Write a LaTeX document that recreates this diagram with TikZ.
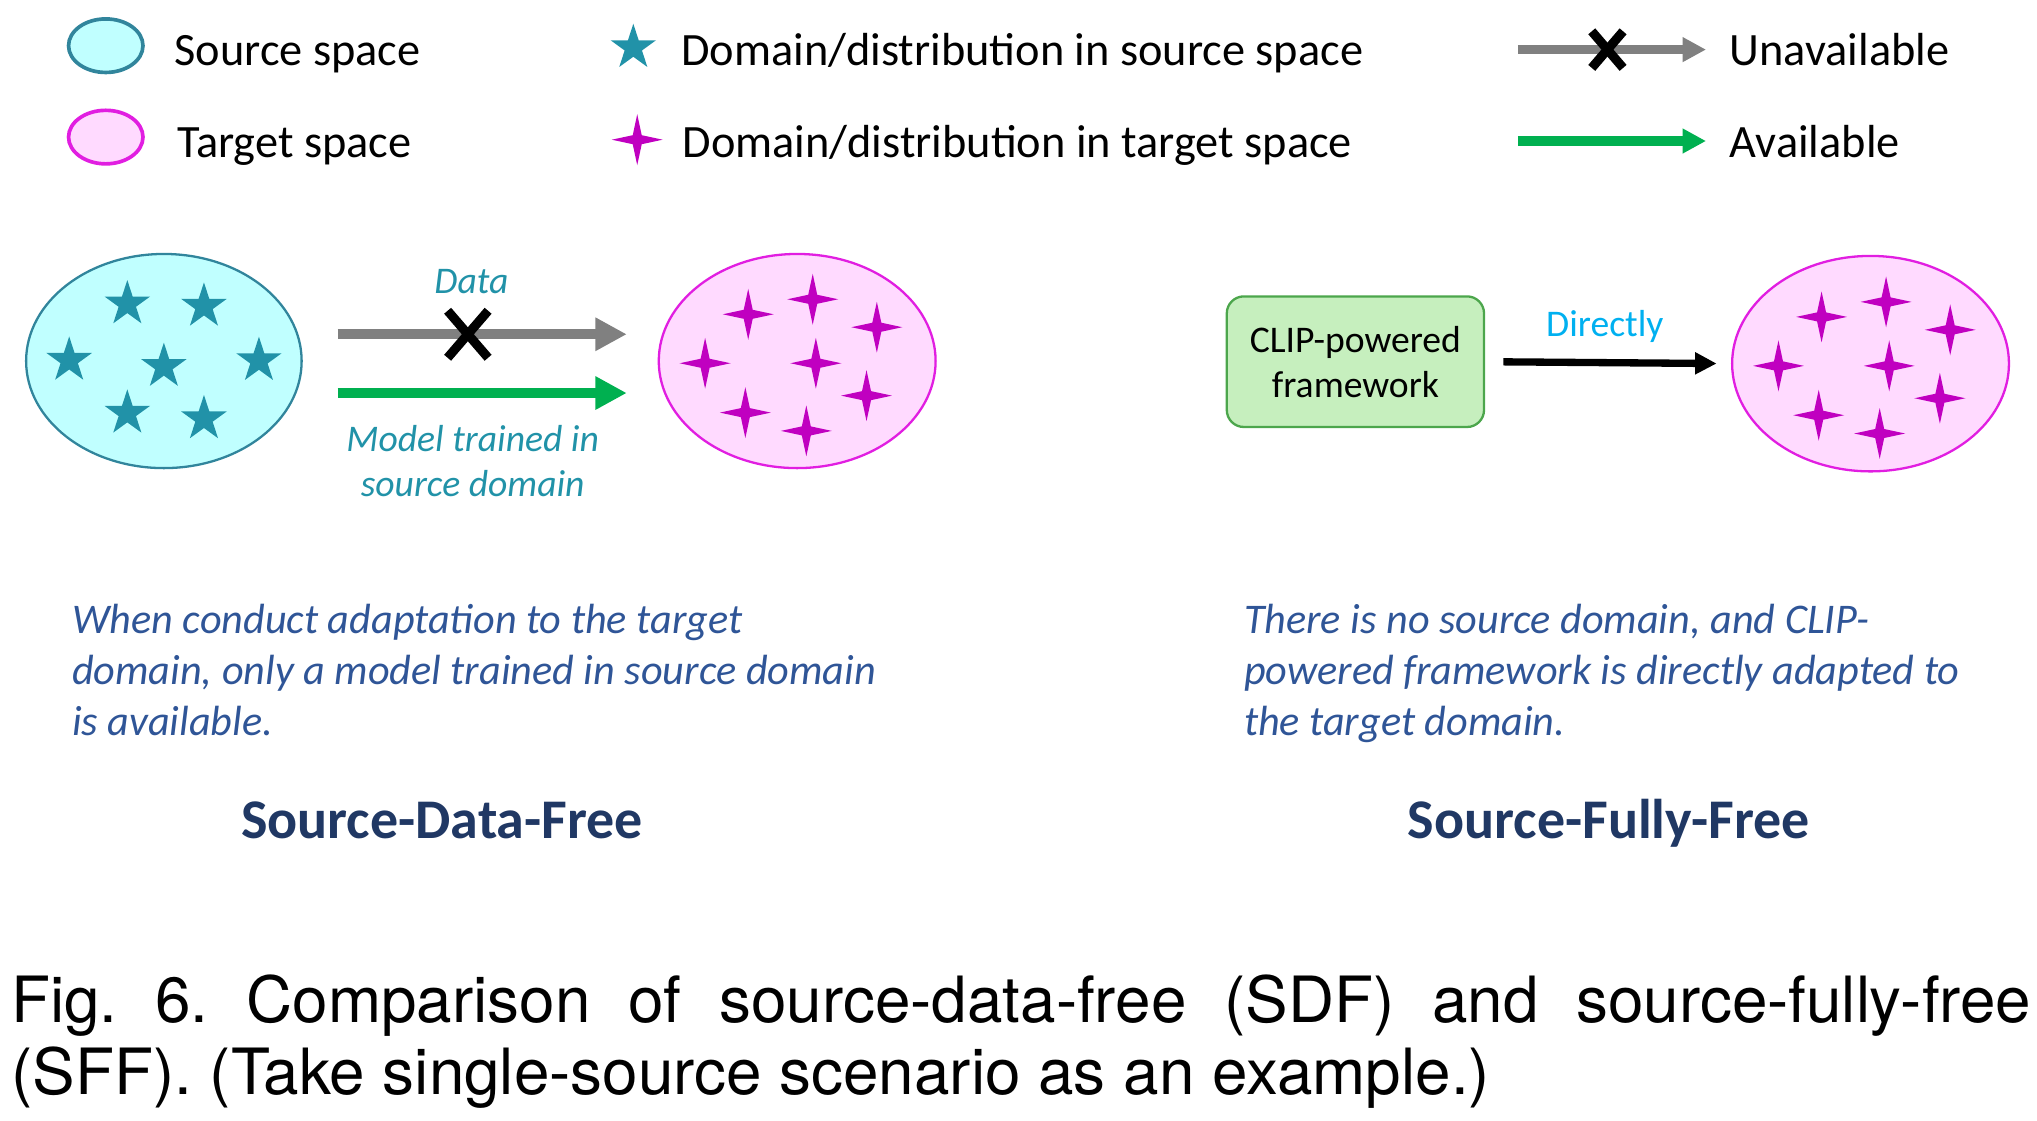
\documentclass[tikz,border=0pt]{standalone}
\usepackage{fontspec}
\setmainfont{Carlito}
\newfontfamily\captionsans{TeX Gyre Heros}
\usetikzlibrary{arrows.meta,shapes.geometric}
\definecolor{srcFill}{RGB}{192,255,255}
\definecolor{srcLine}{RGB}{49,133,156}
\definecolor{starTeal}{RGB}{33,146,168}
\definecolor{tgtFill}{RGB}{255,218,255}
\definecolor{tgtLine}{RGB}{225,30,225}
\definecolor{starMag}{RGB}{192,0,192}
\definecolor{arrGray}{RGB}{128,128,128}
\definecolor{arrGreen}{RGB}{0,176,80}
\definecolor{boxFill}{RGB}{198,239,190}
\definecolor{boxLine}{RGB}{76,166,76}
\definecolor{noteBlue}{RGB}{47,85,151}
\definecolor{titleBlue}{RGB}{32,56,100}
\definecolor{directBlue}{RGB}{0,176,240}
\newcommand\spaceWidth{2.11cm}
\newcommand\spaceHeight{1.64cm}
\newcommand\drawSourceStars[1]{
	\foreach \dx/\dy [count=\i] in {-0.28/0.437, 0.307/0.419, -0.725/0.005, 0/-0.042, 0.728/0.003, -0.28/-0.40, 0.307/-0.443}{
		\node[srcstar] (#1star\i) at ([shift={(\dx,\dy)}]#1.center) {};
	}
}
\newcommand\drawTargetSparks[1]{
	\foreach \dx/\dy [count=\i] in {-0.375/0.358, 0.119/0.473, 0.61/0.259, -0.705/-0.017, 0.143/-0.017, 0.531/-0.265, -0.397/-0.395, 0.07/-0.535}{
		\node[spark] (#1spark\i) at ([shift={(\dx,\dy)}]#1.center) {};
	}
}
\newcommand\drawCross[3]{
	\draw[cross] ([shift={(-#2,#3)}]#1) to ([shift={(#2,-#3)}]#1);
	\draw[cross] ([shift={(#2,#3)}]#1) to ([shift={(-#2,-#3)}]#1);
}

\begin{document}
\frenchspacing
\begin{tikzpicture}[
	srcstar/.style={star, star points=5, star point ratio=2.618, minimum size=0.366cm, inner sep=0pt, fill=starTeal},
	spark/.style={star, star points=4, star point ratio=4, minimum size=0.39cm, inner sep=0pt, fill=starMag},
	srcspace/.style={ellipse, draw=srcLine, fill=srcFill, line width=0.5pt, inner sep=0pt},
	tgtspace/.style={ellipse, draw=tgtLine, fill=tgtFill, line width=0.5pt, inner sep=0pt},
	legtext/.style={anchor=base west, inner sep=0pt, font=\fontsize{10.1}{12}\selectfont},
	unavail/.style={draw=arrGray, line width=0.08cm, -{Triangle[length=0.24cm,width=0.24cm]}},
	avail/.style={draw=arrGreen, line width=0.08cm, -{Triangle[length=0.24cm,width=0.24cm]}},
	cross/.style={draw=black, line width=0.07cm},
	arrlabel/.style={inner sep=0pt, text=starTeal, font=\fontsize{8.2}{9.8}\selectfont\itshape},
	clipbox/.style={draw=boxLine, fill=boxFill, line width=0.5pt, rounded corners=0.13cm, minimum width=1.97cm, minimum height=1.0cm, align=center, font=\fontsize{8.2}{9.8}\selectfont},
	note/.style={anchor=base west, inner sep=0pt, align=left, text=noteBlue, font=\fontsize{9.2}{11.1}\selectfont\itshape},
	title/.style={anchor=base, inner sep=0pt, text=titleBlue, font=\fontsize{12.2}{14}\selectfont\bfseries},
	captext/.style={anchor=base west, inner sep=0pt, font=\captionsans\fontsize{13.9}{15.6}\selectfont}
]
	\useasboundingbox (0,0) rectangle (15.6,-8.585);

	% legend
	\node[srcspace, line width=0.8pt, minimum width=0.57cm, minimum height=0.41cm] (legSrc) at (0.81,-0.35) {};
	\node[tgtspace, line width=0.8pt, minimum width=0.57cm, minimum height=0.41cm] (legTgt) at (0.81,-1.05) {};
	\node[legtext] (legSrcText) at (1.33,-0.50) {Source space};
	\node[legtext] (legTgtText) at (1.35,-1.21) {Target space};
	\node[srcstar] (legStar) at (4.85,-0.365) {};
	\node[spark] (legSpark) at (4.88,-1.07) {};
	\node[legtext] (legStarText) at (5.21,-0.50) {Domain/distribution in source space};
	\node[legtext] (legSparkText) at (5.22,-1.21) {Domain/distribution in target space};
	\coordinate (legGrayFrom) at (11.625,-0.38);
	\coordinate (legGrayTo) at (13.065,-0.38);
	\coordinate (legGreenFrom) at (11.625,-1.08);
	\coordinate (legGreenTo) at (13.065,-1.08);
	\draw[unavail, line width=0.07cm, -{Triangle[length=0.18cm,width=0.18cm]}] (legGrayFrom) to (legGrayTo);
	\draw[avail, line width=0.07cm, -{Triangle[length=0.18cm,width=0.18cm]}] (legGreenFrom) to (legGreenTo);
	\coordinate (legCross) at (12.31,-0.38);
	\drawCross{legCross}{0.12}{0.14}
	\node[legtext] (legUnavail) at (13.24,-0.50) {Unavailable};
	\node[legtext] (legAvail) at (13.24,-1.21) {Available};

	% source-data-free
	\node[srcspace, minimum width=\spaceWidth, minimum height=\spaceHeight] (src) at (1.255,-2.765) {};
	\drawSourceStars{src}
	\node[tgtspace, minimum width=2.12cm, minimum height=\spaceHeight] (tgtL) at (6.105,-2.765) {};
	\drawTargetSparks{tgtL}
	\coordinate (dataFrom) at (2.585,-2.56);
	\coordinate (dataTo) at (4.80,-2.56);
	\coordinate (modelFrom) at (2.585,-3.01);
	\coordinate (modelTo) at (4.80,-3.01);
	\draw[unavail] (dataFrom) to (dataTo);
	\draw[avail] (modelFrom) to (modelTo);
	\coordinate (dataCross) at (3.583,-2.56);
	\drawCross{dataCross}{0.155}{0.18}
	\node[arrlabel, anchor=base] (dataLbl) at (3.61,-2.247) {Data};
	\node[arrlabel, anchor=base, align=center] (modelLbl) at (3.62,-3.80) {Model trained in\\source domain};
	\node[note] (noteSDF) at (0.545,-5.63) {When conduct adaptation to the target\\domain, only a model trained in source domain\\is available.};
	\node[title] (titleSDF) at (3.386,-6.42) {Source-Data-Free};

	% source-fully-free
	\node[clipbox] (clip) at (10.38,-2.77) {CLIP-powered\\framework};
	\node[tgtspace, minimum width=2.12cm, minimum height=1.65cm] (tgtR) at (14.325,-2.785) {};
	\drawTargetSparks{tgtR}
	\draw[line width=0.056cm, -{Triangle[length=0.165cm,width=0.16cm]}, shorten <=0.14cm, shorten >=0.11cm] (clip.east) to (tgtR.west);
	\node[arrlabel, anchor=base, text=directBlue, font=\fontsize{8.2}{9.8}\selectfont] (directLbl) at (12.29,-2.58) {Directly};
	\node[note] (noteSFF) at (9.52,-5.63) {There is no source domain, and CLIP-\\powered framework is directly adapted to\\the target domain.};
	\node[title] (titleSFF) at (12.32,-6.42) {Source-Fully-Free};

	% caption
	\node[captext] (cap1) at (0.08,-7.83) {\makebox[15.47cm][s]{Fig. 6. Comparison of source-data-free (SDF) and source-fully-free}};
	\node[captext] (cap2) at (0.08,-8.38) {(SFF). (Take single-source scenario as an example.)};
\end{tikzpicture}
\end{document}
